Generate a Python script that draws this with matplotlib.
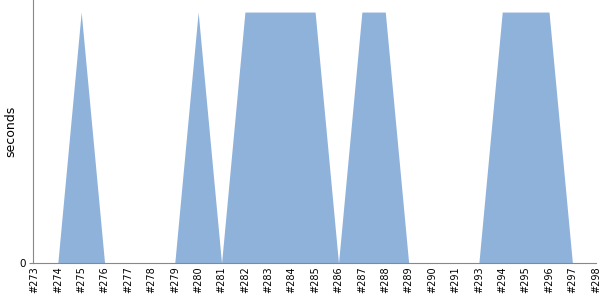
import matplotlib.pyplot as plt
import numpy as np

# builds along the x axis (no #292 in the source)
builds = ['#273', '#274', '#275', '#276', '#277', '#278', '#279', '#280', '#281',
          '#282', '#283', '#284', '#285', '#286', '#287', '#288', '#289', '#290',
          '#291', '#293', '#294', '#295', '#296', '#297', '#298']
seconds = [0, 0, 1, 0, 0, 0, 0, 1, 0,
           1, 1, 1, 1, 0, 1, 1, 0, 0,
           0, 0, 1, 1, 1, 0, 0]

x = np.arange(len(builds))

fig = plt.figure(figsize=(6, 3), dpi=100)
ax = fig.add_axes([0.055, 0.123, 0.938, 0.877])

ax.fill_between(x, seconds, 0, color='#8fb2db', linewidth=0)

ax.set_xlim(-0.06, len(builds) - 1)
ax.set_ylim(0, 1.048)
ax.set_xticks(x)
ax.set_xticklabels(builds, rotation=90, fontsize=7)
ax.set_yticks([0])
ax.set_yticklabels(['0'], fontsize=7.5)
ax.tick_params(axis='x', length=0, pad=2)
ax.tick_params(axis='y', length=3, color='#888888', pad=2)
ax.set_ylabel('seconds', fontsize=9)
ax.yaxis.set_label_coords(-0.028, 0.5)

for side in ['top', 'right']:
    ax.spines[side].set_visible(False)
for side in ['left', 'bottom']:
    ax.spines[side].set_color('#888888')

fig.savefig('out.png', dpi=100)
